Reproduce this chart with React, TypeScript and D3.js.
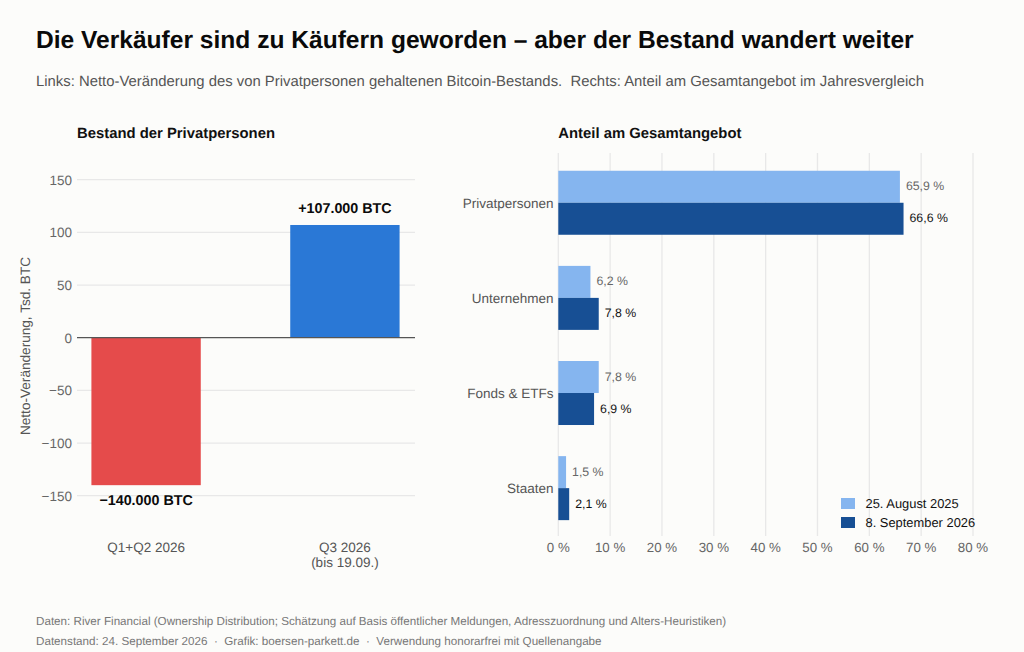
import React from 'react';
import * as d3 from 'd3';

const periods = ['Q1+Q2 2026', 'Q3 2026'];
const periodNotes = ['', '(bis 19.09.)'];
const netChange = [-140, 107];
const netLabels = ['−140.000 BTC', '+107.000 BTC'];
const netColors = ['#e54b4b', '#2a78d6'];
const netTicks = [150, 100, 50, 0, -50, -100, -150];

const holders = ['Privatpersonen', 'Unternehmen', 'Fonds & ETFs', 'Staaten'];
const share2025 = [65.9, 6.2, 7.8, 1.5];
const share2026 = [66.6, 7.8, 6.9, 2.1];
const shareTicks = [0, 10, 20, 30, 40, 50, 60, 70, 80];
const legendNames = ['25. August 2025', '8. September 2026'];
const colorOld = '#85b5ef';
const colorNew = '#174f94';

const fmt = (v: number) => v.toFixed(1).replace('.', ',') + ' %';
const tickFmt = (v: number) => String(v).replace('-', '−');

export default function App() {
  // linke Seite
  const yLeft = d3.scaleLinear().domain([-150, 150]).range([495.7, 179.7]);
  const xLeft = d3.scaleLinear().domain([-0.35, 1.35]).range([76.5, 414.5]);
  const barW = xLeft(0.55) - xLeft(0);

  // rechte Seite
  const xRight = d3.scaleLinear().domain([0, 80]).range([558.3, 973]);
  const yRight = d3.scaleBand().domain(holders).range([155.5, 536]);
  const barH = 32;

  return (
    <svg
      width={1024}
      height={652}
      textRendering="geometricPrecision"
      style={{ position: 'absolute', left: 0, top: 0, background: '#fcfcfa', fontFamily: '"Liberation Sans", Arial, sans-serif' }}
    >
      <rect width={1024} height={652} fill="#fcfcfa" />
      <text x={36} y={47.7} fontSize={24.57} fontWeight={700} fill="#0a0a0a">
        Die Verkäufer sind zu Käufern geworden – aber der Bestand wandert weiter
      </text>
      <text x={36} y={86} fontSize={14.87} fill="#555" xmlSpace="preserve">
        Links: Netto-Veränderung des von Privatpersonen gehaltenen Bitcoin-Bestands.  Rechts: Anteil am Gesamtangebot im Jahresvergleich
      </text>

      <text x={77} y={138} fontSize={14.85} fontWeight={700} fill="#111">Bestand der Privatpersonen</text>
      {netTicks.filter(t => t !== 0).map(t => (
        <line key={t} x1={77} x2={415} y1={yLeft(t)} y2={yLeft(t)} stroke="#e8e8e8" strokeWidth={1.3} />
      ))}
      {netTicks.map(t => (
        <text key={t} x={72} y={yLeft(t) + 4.8} fontSize={13.5} fill="#666" textAnchor="end">{tickFmt(t)}</text>
      ))}
      {netChange.map((v, i) => (
        <rect
          key={periods[i]}
          x={xLeft(i) - barW / 2}
          width={barW}
          y={Math.min(yLeft(v), yLeft(0))}
          height={Math.abs(yLeft(v) - yLeft(0))}
          fill={netColors[i]}
        />
      ))}
      <line x1={77} x2={415} y1={yLeft(0)} y2={yLeft(0)} stroke="#555" strokeWidth={1.2} />
      {netChange.map((v, i) => (
        <text
          key={periods[i]}
          x={xLeft(i)}
          y={v > 0 ? yLeft(v) - 12.2 : yLeft(v) + 20}
          fontSize={14.3}
          fontWeight={700}
          fill="#0a0a0a"
          textAnchor="middle"
        >
          {netLabels[i]}
        </text>
      ))}
      {periods.map((p, i) => (
        <text key={p} x={xLeft(i)} y={552} fontSize={13.5} fill="#555" textAnchor="middle">
          <tspan x={xLeft(i)}>{p}</tspan>
          {periodNotes[i] && <tspan x={xLeft(i)} dy={14.8}>{periodNotes[i]}</tspan>}
        </text>
      ))}
      <text transform="translate(29.7,346) rotate(-90)" fontSize={13.6} fill="#555" textAnchor="middle">
        Netto-Veränderung, Tsd. BTC
      </text>

      <text x={558.3} y={138} fontSize={14.85} fontWeight={700} fill="#111">Anteil am Gesamtangebot</text>
      {shareTicks.map(t => (
        <g key={t}>
          <line x1={xRight(t)} x2={xRight(t)} y1={153} y2={536} stroke="#e8e8e8" strokeWidth={1.3} />
          <text x={xRight(t)} y={552} fontSize={13.3} fill="#666" textAnchor="middle">{t} %</text>
        </g>
      ))}
      {holders.map((h, i) => {
        const cy = yRight(h)! + yRight.bandwidth() / 2 - 0.3;
        return (
          <g key={h}>
            <rect x={xRight(0)} y={cy - barH} width={xRight(share2025[i]) - xRight(0)} height={barH} fill={colorOld} />
            <rect x={xRight(0)} y={cy} width={xRight(share2026[i]) - xRight(0)} height={barH} fill={colorNew} />
            <text x={553.5} y={cy + 4.8} fontSize={13.5} fill="#555" textAnchor="end">{h}</text>
            <text x={xRight(share2025[i]) + 6} y={cy - 12.4} fontSize={12.3} fill="#666">{fmt(share2025[i])}</text>
            <text x={xRight(share2026[i]) + 6} y={cy + 19.6} fontSize={12.3} fill="#111">{fmt(share2026[i])}</text>
          </g>
        );
      })}
      {legendNames.map((n, i) => (
        <g key={n}>
          <rect x={841} y={498 + i * 19} width={14} height={11} fill={i === 0 ? colorOld : colorNew} />
          <text x={865.5} y={508 + i * 19} fontSize={12.9} fill="#111">{n}</text>
        </g>
      ))}

      <text x={36} y={625} fontSize={11.65} fill="#777">
        Daten: River Financial (Ownership Distribution; Schätzung auf Basis öffentlicher Meldungen, Adresszuordnung und Alters-Heuristiken)
      </text>
      <text x={36} y={645} fontSize={11.65} fill="#777" xmlSpace="preserve">
        Datenstand: 24. September 2026  ·  Grafik: boersen-parkett.de  ·  Verwendung honorarfrei mit Quellenangabe
      </text>
    </svg>
  );
}
